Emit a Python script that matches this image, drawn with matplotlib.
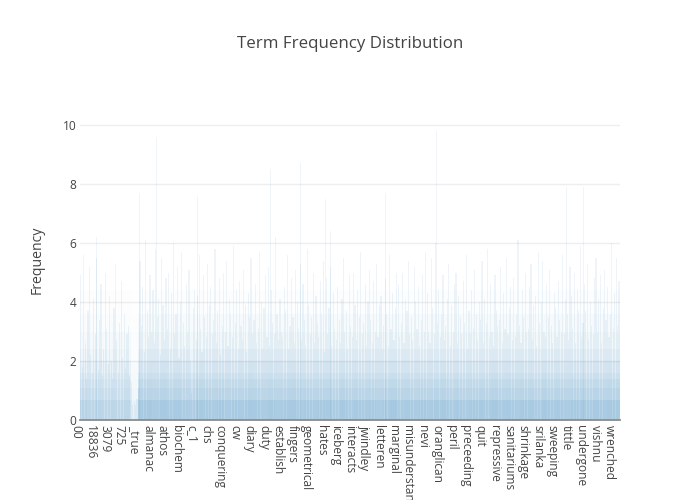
import numpy as np
import matplotlib
matplotlib.use('Agg')
import matplotlib.pyplot as plt
from matplotlib.transforms import ScaledTranslation

plt.rcParams['font.family'] = ['Open Sans', 'DejaVu Sans']

# every 100th term of the sorted vocabulary is labelled on the x axis
tick_terms = ['00', '18836', '3079', '725', '_true', 'almanac', 'athos', 'biochem',
              'c_1', 'chs', 'conquering', 'cw', 'diary', 'duty', 'establish',
              'fingers', 'geometrical', 'hates', 'iceberg', 'interacts', 'jwindley',
              'letteren', 'marginal', 'misunderstanding', 'nevi', 'oranglican',
              'peril', 'preceeding', 'quit', 'repressive', 'sanitariums',
              'shrinkage', 'srilanka', 'sweeping', 'tittle', 'undergone', 'vishnu',
              'wrenched']
terms_per_tick = 100
n_terms = 3742

# share of terms whose frequency reaches each band (most terms are low)
band_edges = [0, 0.69, 1.10, 1.39, 1.61, 2.0, 2.4, 3.0, 3.6, 4.4]
band_share = [0.33, 0.25, 0.21, 0.17, 0.13, 0.085, 0.055, 0.03, 0.012]

# relative density of each block of 50 terms
block_density = [0.78, 0.72, 0.74, 0.70, 0.73, 0.68, 0.71, 0.25,
                 1.00, 1.02, 0.97, 1.03, 0.99, 1.01, 0.96, 0.92,
                 1.02, 1.00, 0.98, 1.04, 0.97, 1.01, 0.99, 1.03,
                 1.00, 0.96, 1.02, 0.98, 1.01, 1.03, 0.97, 1.00,
                 0.99, 1.02, 1.00, 0.96, 1.03, 0.98, 1.01, 0.99,
                 1.02, 0.97, 1.00, 1.04, 0.98, 1.01, 0.96, 1.02,
                 0.99, 1.00, 1.03, 0.97, 1.01, 0.98, 1.02, 1.00,
                 0.97, 1.03, 0.99, 1.01, 0.98, 1.02, 1.00, 0.96,
                 1.03, 0.99, 1.01, 0.97, 1.02, 1.00, 0.98, 1.01,
                 0.99, 1.02, 1.00]

# frequency of sampled terms, 10 per labelled segment
streaks = [
    [4.9, 1.8, 5.6, 2.6, 1.4, 3.7, 5.2, 2.2, 1.6, 4.1],
    [2.9, 5.5, 1.7, 3.4, 4.6, 1.5, 2.4, 5.0, 3.1, 1.9],
    [4.2, 2.0, 1.4, 3.8, 5.3, 2.7, 1.6, 3.3, 4.7, 2.1],
    [3.6, 1.8, 2.9, 3.2, 1.5, 1.3, 0.5, 0.6, 0.5, 0.7],
    [1.1, 5.4, 3.2, 4.5, 2.3, 6.1, 3.7, 2.8, 4.9, 3.0],
    [4.4, 2.6, 5.8, 3.5, 4.1, 2.2, 5.5, 3.9, 2.7, 4.8],
    [3.1, 5.0, 2.4, 4.3, 6.0, 2.9, 3.6, 5.2, 2.1, 4.0],
    [5.7, 3.3, 2.5, 4.6, 3.0, 5.1, 2.0, 0.9, 3.8, 4.4],
    [2.7, 4.2, 5.6, 3.1, 2.3, 4.9, 3.5, 2.8, 5.3, 3.9],
    [4.5, 2.9, 3.4, 5.8, 2.6, 3.7, 4.8, 2.2, 3.2, 5.0],
    [3.0, 5.4, 2.5, 4.1, 3.6, 2.8, 5.9, 3.3, 4.4, 2.4],
    [4.7, 3.2, 2.7, 5.1, 3.9, 2.3, 4.3, 3.5, 5.5, 2.9],
    [3.4, 4.6, 2.6, 3.1, 5.7, 4.0, 2.4, 3.8, 4.9, 2.8],
    [5.2, 2.5, 4.4, 3.3, 2.9, 6.2, 3.6, 2.7, 4.1, 3.0],
    [2.8, 4.5, 3.7, 5.6, 2.4, 3.2, 4.8, 3.5, 2.6, 5.1],
    [4.0, 3.1, 5.3, 2.7, 4.6, 3.4, 2.5, 5.8, 3.9, 2.9],
    [3.5, 5.0, 2.6, 4.2, 3.3, 2.8, 4.7, 3.6, 5.4, 2.3],
    [4.8, 2.9, 3.8, 5.2, 2.5, 4.3, 3.1, 2.7, 4.5, 3.4],
    [2.6, 4.1, 5.5, 3.0, 3.7, 2.4, 4.9, 3.2, 2.8, 5.0],
    [3.9, 2.7, 4.4, 3.5, 5.7, 2.9, 3.3, 4.6, 2.5, 4.0],
    [5.1, 3.4, 2.6, 4.7, 3.0, 5.3, 2.8, 3.9, 4.2, 2.4],
    [3.2, 4.8, 3.6, 2.5, 5.6, 3.1, 4.3, 2.7, 3.8, 5.0],
    [4.6, 2.8, 3.3, 5.0, 2.6, 4.1, 3.7, 5.4, 2.9, 3.5],
    [2.7, 5.2, 4.0, 3.1, 4.5, 2.5, 3.4, 4.9, 3.0, 5.7],
    [4.3, 3.0, 2.6, 5.5, 3.8, 2.9, 6.0, 3.3, 4.4, 2.8],
    [3.6, 4.9, 2.7, 3.2, 4.1, 5.3, 2.5, 3.9, 3.0, 4.6],
    [5.0, 2.6, 4.2, 3.5, 2.9, 4.7, 3.3, 5.6, 2.4, 3.7],
    [2.9, 4.4, 3.1, 5.1, 3.6, 2.7, 4.0, 3.4, 5.4, 2.6],
    [4.1, 3.3, 5.8, 2.8, 4.6, 3.0, 2.5, 4.9, 3.7, 3.2],
    [3.4, 5.2, 2.6, 4.3, 3.1, 5.5, 2.9, 3.8, 4.5, 2.7],
    [4.8, 2.8, 3.6, 6.1, 3.2, 2.6, 4.4, 3.5, 5.0, 3.0],
    [3.1, 4.5, 5.3, 2.7, 3.9, 4.2, 2.5, 5.7, 3.3, 4.0],
    [5.4, 3.0, 2.8, 4.6, 3.5, 5.1, 3.2, 2.6, 4.3, 3.8],
    [2.8, 4.7, 3.4, 3.0, 5.6, 2.9, 4.1, 3.6, 2.7, 5.2],
    [4.2, 3.1, 5.0, 2.6, 4.4, 3.7, 5.9, 2.8, 3.3, 4.6],
    [3.7, 5.3, 2.7, 4.0, 3.2, 2.9, 4.8, 5.5, 3.0, 4.1],
    [4.9, 2.6, 3.8, 5.1, 3.4, 4.5, 2.8, 3.6, 6.0, 3.1],
    [4.3, 5.5, 3.2, 4.7],
]

# the most frequent terms (position in the vocabulary, frequency)
spike_terms = [111, 409, 527, 568, 658, 811, 1317, 1525, 1698, 1733, 2030,
               2114, 2467, 2827, 3035, 3243, 3368, 3486, 3541, 3638]
spike_values = [6.2, 7.7, 9.6, 8.5, 6.9, 7.6, 8.5, 8.7, 7.5, 6.4, 7.4,
                7.7, 9.8, 7.7, 6.7, 7.8, 7.9, 7.9, 6.8, 8.0]

blue = (31 / 255, 119 / 255, 180 / 255)

fig = plt.figure(figsize=(7, 5), dpi=100)
ax = fig.add_axes([80 / 700, 80 / 500, 540 / 700, 320 / 500])

# bands of low frequencies
bx, bh, bb, bc = [], [], [], []
for b, d in enumerate(block_density):
    for j, share in enumerate(band_share):
        bx.append(b * 50)
        bb.append(band_edges[j])
        bh.append(band_edges[j + 1] - band_edges[j])
        bc.append(blue + (min(share * d, 1.0),))
ax.bar(bx, bh, bottom=bb, width=50, align='edge', color=bc, linewidth=0,
       antialiased=False, zorder=2)

# individual terms
sx, sh = [], []
for s, vals in enumerate(streaks):
    for j, v in enumerate(vals):
        sx.append(s * terms_per_tick + 5 + 10 * j)
        sh.append(v)
ax.bar(sx, sh, width=8, color=blue, alpha=0.075, linewidth=0, zorder=3)
ax.bar(spike_terms, spike_values, width=6, color=blue, alpha=0.07, linewidth=0, zorder=3)

ax.set_xlim(-0.5, n_terms - 0.5)
ax.set_ylim(0, 10.85)
ax.set_yticks(np.arange(0, 11, 2))
ax.set_xticks(np.arange(len(tick_terms)) * terms_per_tick)
ax.set_xticklabels(tick_terms, rotation=-90, ha='center', va='top',
                   rotation_mode='default')
ax.tick_params(axis='both', length=0, labelsize=8.6, labelcolor='#444444')
ax.tick_params(axis='x', pad=3.6)
ax.tick_params(axis='y', pad=2.5)
offset = ScaledTranslation(-3 / 72, 0, fig.dpi_scale_trans)
for lbl in ax.get_xticklabels():
    lbl.set_transform(lbl.get_transform() + offset)

ax.yaxis.grid(True, color='#eeeeee', linewidth=1)
ax.set_axisbelow(True)
for sp in ax.spines.values():
    sp.set_visible(False)
ax.axhline(0, color='#8c8c8c', linewidth=1.3, zorder=5, clip_on=False)

fig.text(0.5, 1 - 44 / 500, 'Term Frequency Distribution', ha='center', va='center',
         fontsize=12.2, color='#444444')
fig.text(37 / 700, 1 - 260 / 500, 'Frequency', rotation=90, ha='center', va='center',
         fontsize=10.1, color='#444444')

fig.savefig('out.png', dpi=100)
